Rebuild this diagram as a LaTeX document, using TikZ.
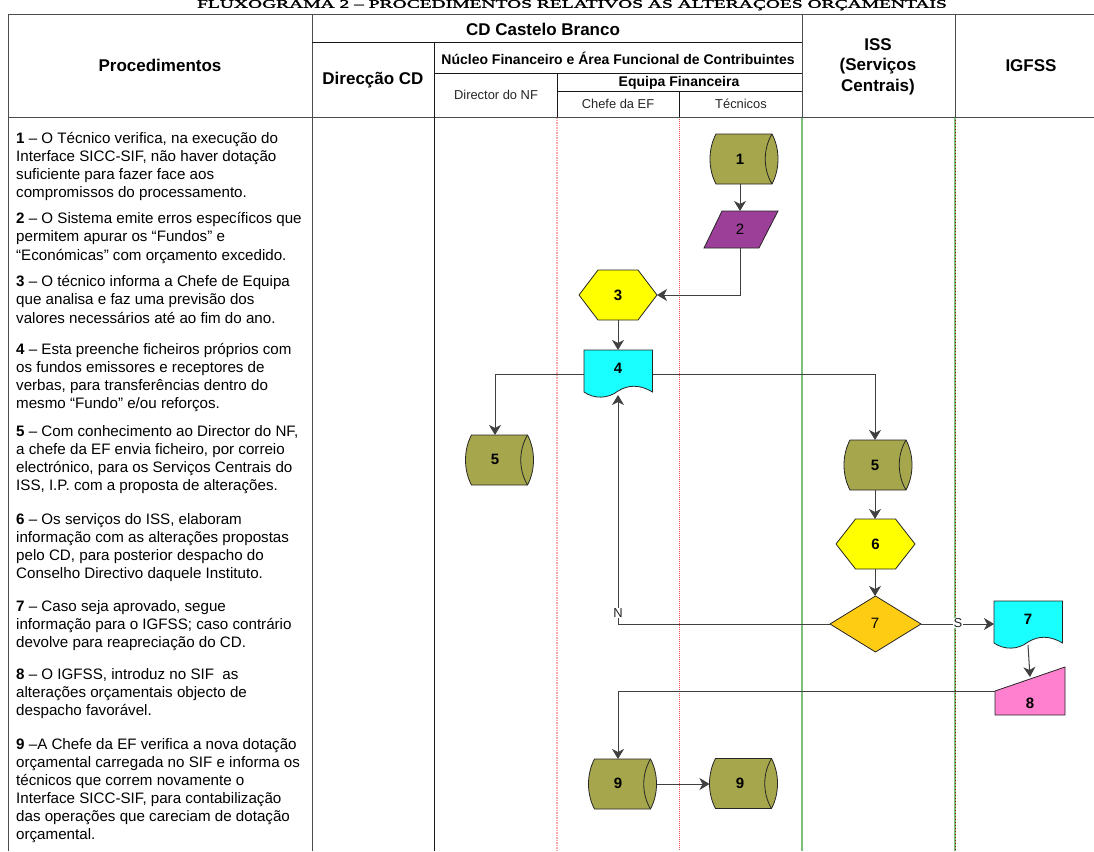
\documentclass[tikz,border=0pt]{standalone}
\usepackage{fontspec}
\setmainfont{Liberation Sans}
\newfontfamily\titlefont[FakeBold=1.6]{Liberation Serif}
\usepackage{xcolor}
\usetikzlibrary{arrows.meta}
\definecolor{olv}{HTML}{A6A64D}
\definecolor{prp}{HTML}{9C3F98}
\definecolor{yel}{HTML}{FFFF00}
\definecolor{cya}{HTML}{19FFFF}
\definecolor{gold}{HTML}{FFCC14}
\definecolor{pnk}{HTML}{FF80CF}
\definecolor{grn}{HTML}{7DBF7D}
\tikzset{
 x=1pt,y=-1pt,
 gridg/.style={draw=black!70,line width=1pt},
 gridk/.style={draw=black!90,line width=0.8pt},
 conn/.style={draw=black!75,line width=1pt,-{Stealth[length=10pt,width=12pt,inset=3pt]}},
 shp/.style={draw=black!85,line width=0.8pt},
 lab/.style={inner sep=0pt,font=\fontsize{15}{15}\selectfont\bfseries},
 labn/.style={inner sep=0pt,font=\fontsize{15}{15}\selectfont,text=black},
 hd/.style={inner sep=0pt,align=center,font=\fontsize{17}{20.5}\selectfont\bfseries},
 hdm/.style={inner sep=0pt,align=center,font=\fontsize{14}{15}\selectfont\bfseries},
 hdt/.style={inner sep=0pt,align=center,font=\fontsize{12.9}{15}\selectfont,text=black!85},
 proc/.style={inner sep=0pt,anchor=north west,align=left,font=\fontsize{15.15}{18.1}\selectfont},
 tag/.style={inner sep=0.5pt,fill=white,font=\fontsize{13}{13}\selectfont,text=black!85},
 bbox/.style={inner sep=0pt,outer sep=0pt},
}
% name, cx, cy, label-x, label-y, text
\newcommand{\cylnode}[6]{%
 \path[shp,fill=olv] (#2-28,#3-25) -- (#2+28,#3-25) .. controls (#2+36,#3-10) and (#2+36,#3+10) .. (#2+28,#3+25) -- (#2-28,#3+25) .. controls (#2-36,#3+10) and (#2-36,#3-10) .. (#2-28,#3-25) -- cycle;
 \draw[shp] (#2+28,#3-25) .. controls (#2+19,#3-10) and (#2+19,#3+10) .. (#2+28,#3+25);
 \node[bbox,minimum width=68pt,minimum height=50pt] (#1) at (#2,#3) {};
 \node[lab] (#1t) at (#4,#5) {#6};
}
% name, left, top, text
\newcommand{\docnode}[4]{%
 \path[shp,fill=cya] (#2,#3) -- (#2+68.5,#3) -- (#2+68.5,#3+42) .. controls (#2+55,#3+34) and (#2+44,#3+35) .. (#2+34,#3+41) .. controls (#2+24,#3+49) and (#2+10,#3+49) .. (#2,#3+42) -- cycle;
 \node[bbox,minimum width=68.5pt,minimum height=48pt] (#1) at (#2+34.25,#3+24) {};
 \node[lab] (#1t) at (#2+34,#3+18) {#4};
}
% name, cx, cy, half-width, inner half-width, text
\newcommand{\hexnode}[6]{%
 \path[shp,fill=yel] (#2-#4,#3) -- (#2-#5,#3-25) -- (#2+#5,#3-25) -- (#2+#4,#3) -- (#2+#5,#3+25) -- (#2-#5,#3+25) -- cycle;
 \node[bbox,minimum width=2*#4 pt,minimum height=50pt] (#1) at (#2,#3) {};
 \node[lab] (#1t) at (#2,#3) {#6};
}
\begin{document}
\begin{tikzpicture}
\useasboundingbox (0,0) rectangle (1094,851);
% title
\node[inner sep=0pt,yscale=0.6,text=black] (title) at (572,4) {\titlefont\fontsize{19.5}{19.5}\selectfont FLUXOGRAMA 2 – PROCEDIMENTOS RELATIVOS ÀS ALTERAÇÕES ORÇAMENTAIS};
% body column lines
\draw[dash pattern=on 1.5pt off 1pt,draw=red!35,line width=1.4pt] (557,117) -- (557,851);
\draw[dash pattern=on 1pt off 1pt,draw=red!70,line width=1pt] (679,117) -- (679,851);
\draw[draw=grn,line width=1.3pt] (802,117) -- (802,851);
\draw[draw=grn,line width=1.3pt] (955,117) -- (955,851);
\draw[dash pattern=on 1pt off 2pt,draw=red!60!black,line width=0.6pt] (955,117) -- (955,851);
% grid
\draw[gridg] (8,15) -- (1094,15);
\draw[gridg] (8,117) -- (1094,117);
\draw[gridg] (8,15) -- (8,851);
\draw[gridg] (312,15) -- (312,851);
\draw[gridk] (312,42) -- (802,42);
\draw[gridk] (434,73) -- (802,73);
\draw[gridk] (557,91) -- (802,91);
\draw[gridk] (434,42) -- (434,851);
\draw[gridk] (557,73) -- (557,117);
\draw[gridk] (679,91) -- (679,117);
\draw[gridg] (802,15) -- (802,117);
\draw[gridg] (955,15) -- (955,117);
% headers
\node[hd] (hproc) at (160,65) {Procedimentos};
\node[hd] (hcd) at (543,29) {CD Castelo Branco};
\node[hd] (hdir) at (373,80) {Direcção CD};
\node[hdm] (hnf) at (618,58) {Núcleo Financeiro e Área Funcional de Contribuintes};
\node[hdt] (hdnf) at (496,95) {Director do NF};
\node[hdm] (hef) at (679,82.5) {Equipa Financeira};
\node[hdt] (hchefe) at (618,104) {Chefe da EF};
\node[hdt] (htec) at (741,104) {Técnicos};
\node[hd] (hiss) at (878,66.5) {ISS\\(Serviços\\Centrais)};
\node[hd] (higfss) at (1031,66) {IGFSS};
% procedures
\node[proc] (p1) at (16,132) {\textbf{1} – O Técnico verifica, na execução do\\Interface SICC-SIF, não haver dotação\\suficiente para fazer face aos\\compromissos do processamento.};
\node[proc] (p2) at (16,212.5) {\textbf{2} – O Sistema emite erros específicos que\\permitem apurar os “Fundos” e\\“Económicas” com orçamento excedido.};
\node[proc] (p3) at (16,275.5) {\textbf{3} – O técnico informa a Chefe de Equipa\\que analisa e faz uma previsão dos\\valores necessários até ao fim do ano.};
\node[proc] (p4) at (16,343) {\textbf{4} – Esta preenche ficheiros próprios com\\os fundos emissores e receptores de\\verbas, para transferências dentro do\\mesmo “Fundo” e/ou reforços.};
\node[proc] (p5) at (16,425) {\textbf{5} – Com conhecimento ao Director do NF,\\a chefe da EF envia ficheiro, por correio\\electrónico, para os Serviços Centrais do\\ISS, I.P. com a proposta de alterações.};
\node[proc] (p6) at (16,513) {\textbf{6} – Os serviços do ISS, elaboram\\informação com as alterações propostas\\pelo CD, para posterior despacho do\\Conselho Directivo daquele Instituto.};
\node[proc] (p7) at (16,600) {\textbf{7} – Caso seja aprovado, segue\\informação para o IGFSS; caso contrário\\devolve para reapreciação do CD.};
\node[proc] (p8) at (16,668) {\textbf{8} – O IGFSS, introduz no SIF\ \ as\\alterações orçamentais objecto de\\despacho favorável.};
\node[proc] (p9) at (16,738) {\textbf{9} –A Chefe da EF verifica a nova dotação\\orçamental carregada no SIF e informa os\\técnicos que correm novamente o\\Interface SICC-SIF, para contabilização\\das operações que careciam de dotação\\orçamental.};
% shapes
\cylnode{c1}{744}{159}{740}{159}{1}
\path[shp,fill=prp] (722,211) -- (778,211) -- (759,248) -- (704,248) -- cycle;
\node[bbox,minimum width=74pt,minimum height=37pt] (q2) at (741,229.5) {};
\node[labn] (q2t) at (740,229) {2};
\hexnode{h3}{618}{295}{39}{20}{3}
\docnode{d4}{584}{350}{4}
\cylnode{c5a}{499.5}{460}{495}{459}{5}
\cylnode{c5b}{878}{465}{875}{465}{5}
\hexnode{h6}{875.5}{544}{39.5}{20}{6}
\path[shp,fill=gold] (830,624) -- (875.5,596) -- (921,624) -- (875.5,652) -- cycle;
\node[bbox,minimum width=91pt,minimum height=56pt] (m7) at (875.5,624) {};
\node[labn] (m7t) at (875,623) {7};
\docnode{d7}{994}{601}{7}
\path[shp,fill=pnk] (995,691) -- (1065,667) -- (1065,715) -- (995,715) -- cycle;
\node[bbox,minimum width=70pt,minimum height=48pt] (i8) at (1030,691) {};
\node[lab] (i8t) at (1030,703) {8};
\cylnode{c9a}{622.5}{784}{618}{783}{9}
\cylnode{c9b}{743.5}{783.5}{740}{783}{9}
% free ends
\coordinate (d4in) at (618,395);
\coordinate (i8in) at (1030,677);
\coordinate (d7out) at (1028,645);
% connectors
\draw[conn] (c1t |- c1.south) -- (c1t |- q2.north);
\draw[conn] (c1t |- q2.south) |- (h3.east);
\draw[conn] (h3.south) -- (h3t |- d4.north);
\draw[conn] (d4.west) -| (c5at |- c5a.north);
\draw[conn] (d4.east) -| (c5bt |- c5b.north);
\draw[conn] (c5bt |- c5b.south) -- (c5bt |- h6.north);
\draw[conn] (c5bt |- h6.south) -- (c5bt |- m7.north);
\draw[conn] (m7.west) -| (d4in);
\draw[conn] (m7.east) -- (d7.west |- m7.east);
\draw[conn] (d7out) -- (i8in);
\draw[conn] (i8.west) -| (c9at |- c9a.north);
\draw[conn] (c9a.east) -- (c9b.west |- c9a.east);
% connector labels
\node[tag] (tagN) at (618,613) {N};
\node[tag] (tagS) at (958,623) {S};
\end{tikzpicture}
\end{document}
